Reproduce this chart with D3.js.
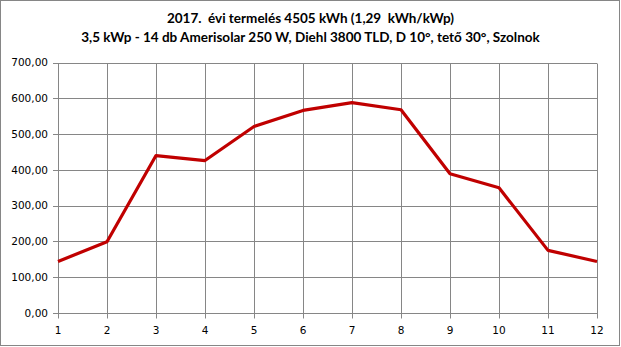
<!DOCTYPE html>
<html><head><meta charset="utf-8">
<script src="https://cdn.jsdelivr.net/npm/d3@7"></script>
<style>body{margin:0;background:#fff}svg{display:block}</style>
</head><body>
<svg id="c" width="621" height="347"></svg>
<script>
const months = [1,2,3,4,5,6,7,8,9,10,11,12];
const production = [144,199,440,426,521,566,588,568,389,350,175,144];
const yTicks = [0,100,200,300,400,500,600,700];
const titleLines = ["2017.  évi termelés 4505 kWh (1,29  kWh/kWp)",
  "3,5 kWp - 14 db Amerisolar 250 W, Diehl 3800 TLD, D 10°, tető 30°, Szolnok"];

const svg = d3.select("#c");
const W = 621, H = 347;
const m = {left:58, right:24, top:62.5, bottom:34};
svg.append("rect").attr("x",0.5).attr("y",0.5).attr("width",W-2).attr("height",H-2)
  .attr("fill","#fff").attr("stroke","#868686");

const x = d3.scaleLinear().domain([1,12]).range([m.left, W-m.right]);
const y = d3.scaleLinear().domain([0,700]).range([H-m.bottom, m.top]);

// gridlines
const g = svg.append("g");
g.selectAll(".hg").data(yTicks).join("line")
  .attr("x1",x(1)-5).attr("x2",x(12)).attr("y1",d=>Math.round(y(d))+0.5).attr("y2",d=>Math.round(y(d))+0.5)
  .attr("stroke","#868686").attr("stroke-width",1);
g.selectAll(".vg").data(months).join("line")
  .attr("x1",d=>Math.round(x(d))+0.5).attr("x2",d=>Math.round(x(d))+0.5)
  .attr("y1",Math.round(y(700))+0.5).attr("y2",Math.round(y(0))+5.5)
  .attr("stroke","#868686").attr("stroke-width",1);

// axis labels
const fmt = d => d3.format(".2f")(d).replace(".",",");
g.selectAll(".yl").data(yTicks).join("text")
  .attr("x",x(1)-10).attr("y",d=>y(d)).attr("dy","0.35em")
  .attr("text-anchor","end").attr("font-family","DejaVu Sans").attr("font-size",10.5)
  .attr("fill","#000").text(fmt);
g.selectAll(".xl").data(months).join("text")
  .attr("x",d=>x(d)).attr("y",y(0)+17).attr("dy","0.35em")
  .attr("text-anchor","middle").attr("font-family","DejaVu Sans").attr("font-size",10.5)
  .attr("fill","#000").text(d=>d);

// line
const line = d3.line().x((d,i)=>x(months[i])).y(d=>y(d));
svg.append("path").datum(production).attr("d",line)
  .attr("fill","none").attr("stroke","#C00000").attr("stroke-width",3.2)
  .attr("stroke-linejoin","round");

// title
svg.selectAll(".t").data(titleLines).join("text")
  .attr("x",W/2).attr("y",(d,i)=>23+i*19)
  .attr("text-anchor","middle").attr("font-family","Lato, 'Open Sans', sans-serif")
  .attr("font-weight","bold").attr("font-size",13.5).attr("fill","#000")
  .style("white-space","pre").text(d=>d);
</script>
</body></html>
